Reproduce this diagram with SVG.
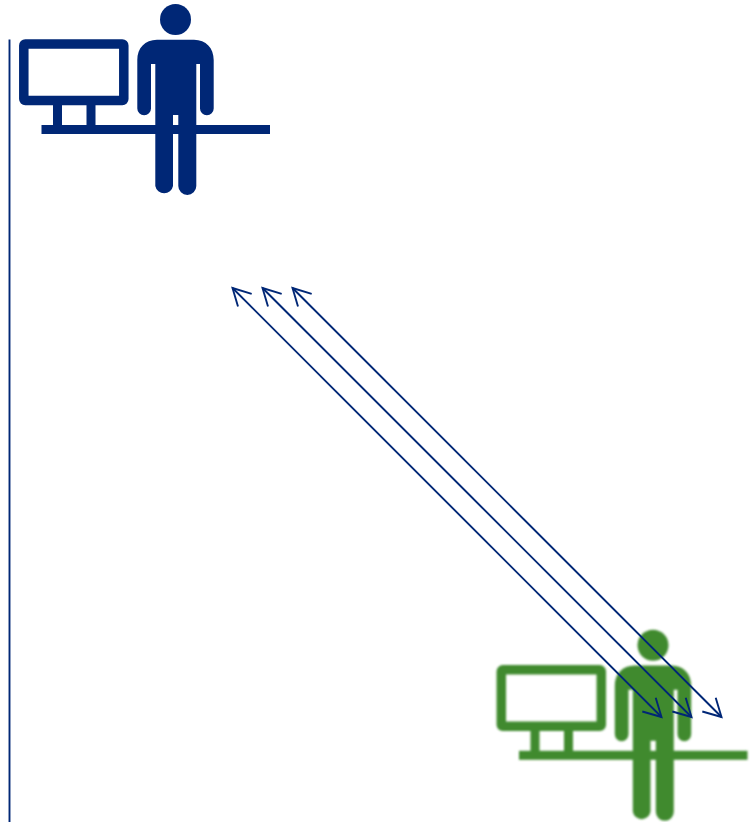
<svg xmlns="http://www.w3.org/2000/svg" width="752" height="822" viewBox="0 0 752 822">
<defs>
<style>
.wire{fill:none;stroke:#002776;stroke-width:1.9}
.head{fill:none;stroke:#002776;stroke-width:1.9}
.navy{fill:#002776;color:#002776}
.green{fill:#3f8a2f;color:#3f8a2f}
</style>
<filter id="soft" x="-5%" y="-5%" width="110%" height="110%"><feGaussianBlur stdDeviation="1"/></filter>
<g id="station">
<rect x="23.8" y="44" width="100" height="56.5" rx="1.5" fill="none" stroke="currentColor" stroke-width="9.5"/>
<rect x="53" y="104" width="9" height="22"/>
<rect x="86.5" y="104" width="9" height="22"/>
<rect x="41.5" y="125" width="228.500" height="9"/>
<circle cx="175.500" cy="19.500" r="15.500"/>
<path fill-rule="evenodd" d="M157 39.700H194C206 39.700 213.700 48 213.700 60V108.500A6.800 6.800 0 0 1 200 108.500V64H196.300V186A9 9 0 0 1 178.300 186V115H173V186A9 9 0 0 1 155.300 186V64H151V108.500A6.800 6.800 0 0 1 137.300 108.500V60C137.300 48 145 39.700 157 39.700Z"/>
</g>
</defs>
<g id="axis"><line class="wire" x1="9.500" y1="39.500" x2="9.500" y2="822"/></g>
<g id="node-a" class="navy"><use href="#station"/></g>
<g id="node-b" class="green" filter="url(#soft)"><use href="#station" x="477.500" y="625.800"/></g>
<g id="connectors">
<path class="wire" d="M232.500 288L661.500 717"/>
<path class="wire" d="M262.500 288L691.500 717"/>
<path class="wire" d="M292.500 288L721.500 717"/>
<path class="head" d="M251.700 293.800L232.500 288L238 306.500"/>
<path class="head" d="M281.700 293.800L262.500 288L268 306.500"/>
<path class="head" d="M311.700 293.800L292.500 288L298 306.500"/>
<path class="head" d="M642.300 711.500L661.500 717L655.700 697.800"/>
<path class="head" d="M672.300 711.500L691.500 717L685.700 697.800"/>
<path class="head" d="M702.300 711.500L721.500 717L715.700 697.800"/>
</g>
</svg>
